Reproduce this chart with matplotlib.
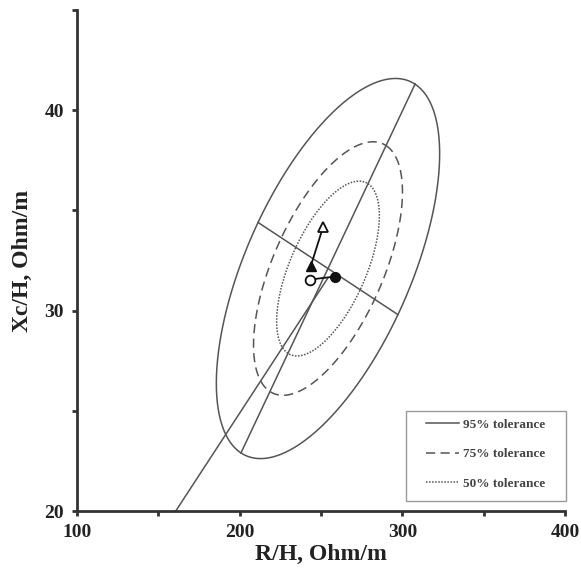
import numpy as np
import matplotlib
matplotlib.use("Agg")
import matplotlib.pyplot as plt
from matplotlib.ticker import MultipleLocator
from matplotlib.patches import Rectangle

# ---- data ----
center = (254.3, 32.1)            # ellipse centre (R/H, Xc/H)
major_semi = (53.5, 9.2)          # conjugate semi-axis along the long axis
minor_semi = (43.0, -2.3)         # conjugate semi-axis along the short axis
tolerance_labels = ["95% tolerance", "75% tolerance", "50% tolerance"]
tolerance_scales = [1.0, 0.667, 0.46]
tolerance_styles = ["-", (0, (6, 3.5)), (0, (1, 1))]

ref_line_x = [160.7, 254.0]
ref_line_y = [20.0, 31.6]

circle_open = (243.2, 31.55)
circle_filled = (258.6, 31.7)
tri_filled = (243.8, 32.25)
tri_open = (251.2, 34.15)

x_ticks = [100, 200, 300, 400]
y_ticks = [20, 30, 40]

# ---- figure ----
plt.rcParams['font.family'] = ['Liberation Serif', 'DejaVu Serif']
fig = plt.figure(figsize=(5.81, 5.71), dpi=100)
ax = fig.add_axes([0.1325, 0.105, 0.84, 0.8775])

gray = "#555555"
t = np.linspace(0, 2 * np.pi, 400)
cx, cy = center
for lab, s, ls in zip(tolerance_labels, tolerance_scales, tolerance_styles):
    ex = cx + s * (major_semi[0] * np.cos(t) + minor_semi[0] * np.sin(t))
    ey = cy + s * (major_semi[1] * np.cos(t) + minor_semi[1] * np.sin(t))
    ax.plot(ex, ey, color=gray, lw=1.1, linestyle=ls, label=lab)

# axes of the 95% ellipse
ax.plot([cx - major_semi[0], cx + major_semi[0]], [cy - major_semi[1], cy + major_semi[1]],
        color=gray, lw=1.1)
ax.plot([cx - minor_semi[0], cx + minor_semi[0]], [cy - minor_semi[1], cy + minor_semi[1]],
        color=gray, lw=1.1)
# reference line
ax.plot(ref_line_x, ref_line_y, color=gray, lw=1.1)

# points and connecting segments
ax.plot([circle_open[0], circle_filled[0]], [circle_open[1], circle_filled[1]], color="#111111", lw=1.3)
ax.plot([tri_filled[0], tri_open[0]], [tri_filled[1], tri_open[1]], color="#111111", lw=1.3)
ax.plot(*circle_open, marker="o", ms=7, mfc="white", mec="#111111", mew=1.3, ls="none")
ax.plot(*circle_filled, marker="o", ms=7, mfc="#111111", mec="#111111", ls="none")
ax.plot(*tri_filled, marker="^", ms=7, mfc="#111111", mec="#111111", ls="none")
ax.plot(*tri_open, marker="^", ms=7.5, mfc="white", mec="#111111", mew=1.3, ls="none")

ax.set_xlim(100, 400)
ax.set_ylim(20, 45)
ax.set_xticks(x_ticks)
ax.set_yticks(y_ticks)
ax.xaxis.set_minor_locator(MultipleLocator(50))
ax.yaxis.set_minor_locator(MultipleLocator(5))
for sp in ["top", "right"]:
    ax.spines[sp].set_visible(False)
for sp in ["left", "bottom"]:
    ax.spines[sp].set_linewidth(2.0)
    ax.spines[sp].set_color("#333333")
ax.tick_params(which="both", direction="out", length=3.5, width=2, color="#333333",
               labelsize=14, pad=6)
for lab in ax.get_xticklabels() + ax.get_yticklabels():
    lab.set_fontweight("bold")
    lab.set_color("#222222")

ax.set_xlabel("R/H, Ohm/m", fontsize=17, fontweight="bold", color="#222222", labelpad=2)
ax.set_ylabel("Xc/H, Ohm/m", fontsize=17, fontweight="bold", color="#222222", labelpad=8)

# legend frame + content
ax.add_patch(Rectangle((0.674, 0.020), 0.328, 0.1796, transform=ax.transAxes,
                       facecolor="white", edgecolor="#999999", lw=1.0, zorder=4,
                       clip_on=False))
leg = ax.legend(loc="upper left", bbox_to_anchor=(0.716, 0.184),
                prop={"weight": "bold", "size": 9.5}, frameon=False,
                handlelength=2.5, handletextpad=0.3,
                labelspacing=1.3, borderpad=0, borderaxespad=0)
leg.set_zorder(5)
for txt in leg.get_texts():
    txt.set_color("#444444")

fig.savefig("out.png", dpi=100)
